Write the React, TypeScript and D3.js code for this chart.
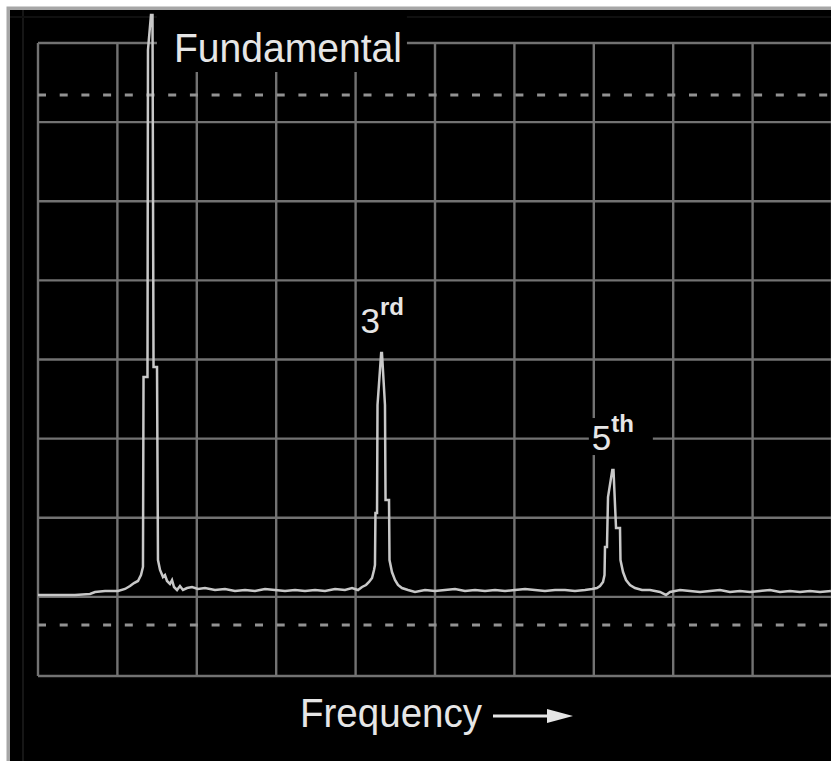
import React from 'react';
import * as d3 from 'd3';

// Spectrum analyser screenshot: odd harmonics of a square-ish wave.
// Units are screen divisions (10 across, 8 up).

const X_DIVS = d3.range(0, 11);
const Y_DIVS = d3.range(0, 9);
const REF_LEVELS = [7.343, 0.645];

const TRACE_FREQ = [
  0, 0.214, 0.466, 0.655, 0.718, 0.844, 1.008, 1.096, 1.159, 1.209, 1.259, 1.297, 1.322,
  1.329, 1.379, 1.385, 1.423, 1.442, 1.455, 1.499, 1.511, 1.537, 1.574, 1.599, 1.625,
  1.662, 1.688, 1.713, 1.751, 1.788, 1.826, 1.877, 1.94, 2.015, 2.103,
  2.229, 2.355, 2.481, 2.607, 2.733, 2.859, 2.985, 3.111, 3.237, 3.363, 3.489, 3.615,
  3.741, 3.866, 3.955, 4.03, 4.081,
  4.131, 4.169, 4.207, 4.232, 4.244, 4.25, 4.27, 4.276, 4.322, 4.332, 4.37, 4.377,
  4.421, 4.427, 4.458, 4.496, 4.534, 4.584, 4.66, 4.748,
  4.874, 5.0, 5.126, 5.252, 5.378, 5.504, 5.63, 5.756, 5.882, 6.008, 6.134, 6.259,
  6.385, 6.511, 6.637, 6.763, 6.889, 6.977,
  7.04, 7.078, 7.116, 7.135, 7.141, 7.166, 7.179, 7.233, 7.248, 7.28, 7.33, 7.336,
  7.368, 7.406, 7.456, 7.519, 7.607,
  7.708, 7.834, 7.909, 7.96, 8.086, 8.212, 8.338, 8.463, 8.589, 8.715, 8.841, 8.967,
  9.093, 9.219, 9.345, 9.471, 9.597, 9.723, 9.849, 9.987,
];

const TRACE_AMPL = [
  1.024, 1.024, 1.024, 1.036, 1.062, 1.074, 1.074, 1.1, 1.137, 1.175, 1.201, 1.276, 1.378,
  3.779, 3.779, 7.912, 8.354, 8.354, 3.905, 3.905, 1.466, 1.34, 1.251, 1.276, 1.201,
  1.163, 1.213, 1.125, 1.087, 1.137, 1.087, 1.112, 1.125, 1.1, 1.112,
  1.087, 1.1, 1.074, 1.087, 1.074, 1.1, 1.087, 1.074, 1.087, 1.074, 1.087, 1.074,
  1.1, 1.087, 1.112, 1.087, 1.125,
  1.15, 1.188, 1.239, 1.34, 1.403, 2.06, 2.06, 3.425, 4.082, 4.082, 3.425, 2.224,
  2.224, 1.466, 1.314, 1.213, 1.15, 1.112, 1.087, 1.062,
  1.087, 1.074, 1.087, 1.1, 1.074, 1.087, 1.074, 1.087, 1.074, 1.087, 1.1, 1.087,
  1.074, 1.087, 1.087, 1.074, 1.087, 1.1,
  1.112, 1.137, 1.188, 1.276, 1.63, 1.63, 2.262, 2.603, 2.603, 1.87, 1.87, 1.466,
  1.314, 1.213, 1.15, 1.112, 1.087,
  1.087, 1.062, 1.024, 1.062, 1.087, 1.074, 1.062, 1.074, 1.087, 1.062, 1.074, 1.062,
  1.074, 1.087, 1.062, 1.074, 1.062, 1.074, 1.062, 1.074,
];

const PEAK_FREQ = [1.435, 4.327, 7.24];
const PEAK_AMPL = [8.0, 4.082, 2.603];
const PEAK_BASE = ['Fundamental', '3', '5'];
const PEAK_SUP = ['', 'rd', 'th'];
const AXIS_TITLE = 'Frequency';

const W = 831;
const H = 761;
const GRID = '#727272';
const TRACE = '#c8c8c8';
const INK = '#e6e6e6';
const FONT = '"Liberation Sans", Arial, Helvetica, sans-serif';

export default function App() {
  const x = d3.scaleLinear().domain([0, 10]).range([38, 832]);
  const y = d3.scaleLinear().domain([0, 8]).range([676, 43]);

  const pts: [number, number][] = TRACE_FREQ.map((f, i) => [f, TRACE_AMPL[i]]);
  const line = d3
    .line<[number, number]>()
    .x((d) => x(d[0]))
    .y((d) => y(d[1]));

  const titleX = 300;
  const titleY = 727;
  const titleW = 182;
  const arrowY = 716;

  return (
    <svg
      width={W}
      height={H}
      viewBox={`0 0 ${W} ${H}`}
      style={{ position: 'absolute', left: 0, top: 0, display: 'block' }}
    >
      <rect x={0} y={0} width={W} height={H} fill="#ffffff" />
      <rect x={6.5} y={6.5} width={W} height={H} fill="#a6a6a6" />
      <rect x={10} y={10} width={W} height={H} fill="#000000" />
      <line x1={23} x2={23} y1={10} y2={H} stroke="#161616" strokeWidth={2} />
      <line x1={10} x2={W} y1={17} y2={17} stroke="#101010" strokeWidth={2} />

      {/* graticule */}
      {X_DIVS.map((d) => (
        <line
          key={`v-${d}`}
          x1={x(d)}
          x2={x(d)}
          y1={y(0)}
          y2={y(8)}
          stroke={GRID}
          strokeWidth={2.4}
        />
      ))}
      {Y_DIVS.map((d) => (
        <line
          key={`h-${d}`}
          x1={x(0)}
          x2={x(10)}
          y1={y(d)}
          y2={y(d)}
          stroke={GRID}
          strokeWidth={2.4}
        />
      ))}
      {REF_LEVELS.map((d) => (
        <line
          key={`r-${d}`}
          x1={x(0)}
          x2={x(10)}
          y1={y(d)}
          y2={y(d)}
          stroke="#929292"
          strokeWidth={3}
          strokeDasharray="8 13.7"
        />
      ))}

      <path d={line(pts) ?? ''} fill="none" stroke={TRACE} strokeWidth={2.5} strokeLinejoin="miter" />

      {/* peak labels */}
      {PEAK_BASE.map((label, i) => {
        const px = x(PEAK_FREQ[i]);
        const py = y(PEAK_AMPL[i]);
        if (i === 0) {
          return (
            <g key={label}>
              <rect x={px + 5} y={py - 28} width={250} height={57} fill="#000" />
              <text
                x={px + 22}
                y={py + 19}
                fontFamily={FONT}
                fontSize={40}
                fill={INK}
                textLength={228}
                lengthAdjust="spacingAndGlyphs"
              >
                {label}
              </text>
            </g>
          );
        }
        return (
          <g key={label}>
            <rect x={px - 24} y={py - 52} width={64} height={37} fill="#000" />
            <text x={px - 21} y={py - 20} fontFamily={FONT} fontSize={35} fill={INK}>
              {label}
              <tspan fontSize={24} fontWeight="bold" dy={-18}>
                {PEAK_SUP[i]}
              </tspan>
            </text>
          </g>
        );
      })}

      {/* x axis title with arrow */}
      <text
        x={titleX}
        y={titleY}
        fontFamily={FONT}
        fontSize={40}
        fill={INK}
        textLength={titleW}
        lengthAdjust="spacingAndGlyphs"
      >
        {AXIS_TITLE}
      </text>
      <line x1={titleX + titleW + 11} x2={titleX + titleW + 68} y1={arrowY} y2={arrowY} stroke={INK} strokeWidth={3} />
      <polygon
        points={`${titleX + titleW + 65},${arrowY - 7} ${titleX + titleW + 91},${arrowY} ${titleX + titleW + 65},${arrowY + 7}`}
        fill={INK}
      />
    </svg>
  );
}
